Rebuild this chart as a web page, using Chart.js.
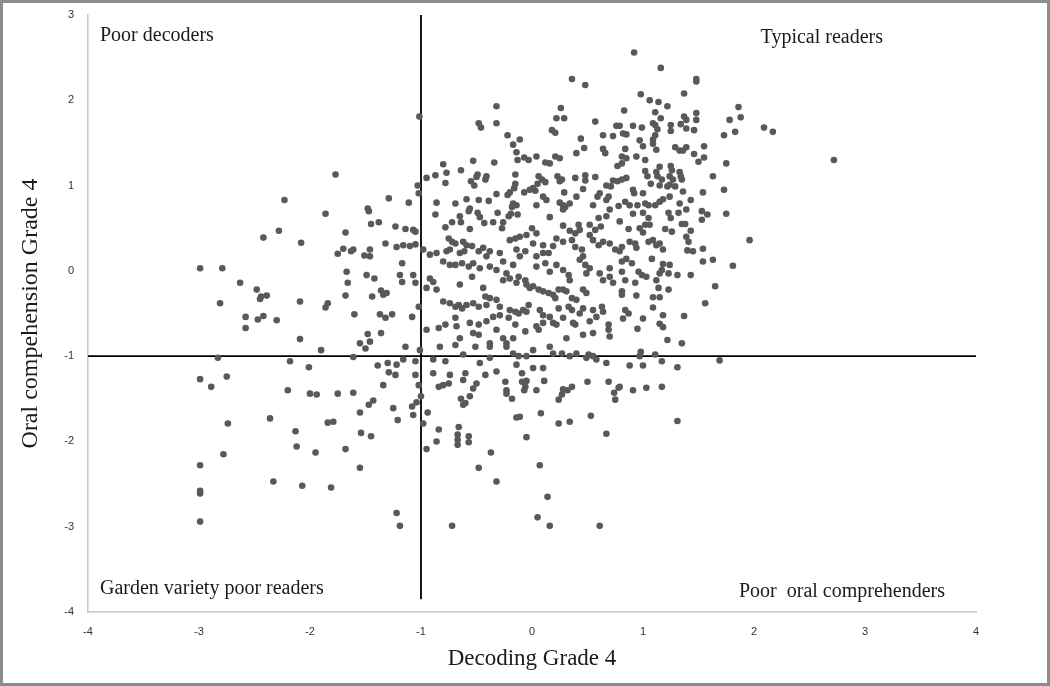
<!DOCTYPE html>
<html>
<head>
<meta charset="utf-8">
<script src="https://cdn.jsdelivr.net/npm/chart.js@4.4.0/dist/chart.umd.min.js"></script>
<style>
  html, body { margin: 0; padding: 0; background: #fff; }
  #wrap { width: 1050px; height: 686px; }
</style>
</head>
<body>
<div id="wrap"><canvas id="myChart"></canvas></div>
<script>
// [decoding, oral comprehension] pairs
const scoresTopLeft = [[-1.77,1.13],[-2.23,0.83],[-1.29,0.85],[-1.48,0.73]];

const scoresTopCenter = [
  [-1.015,1.81],[0.36,2.25],[0.48,2.18],[-0.32,1.93],[-0.48,1.73],[-0.46,1.68],[-0.32,1.73],[0.26,1.91],[0.22,1.79],[0.29,1.79],
  [0.57,1.75],[0.76,1.70],[0.18,1.65],[0.21,1.62],[-0.22,1.59],[-0.11,1.54],[0.44,1.55],[0.64,1.59],[0.73,1.58],[-0.17,1.48],
  [0.47,1.44],[0.64,1.43],[0.66,1.38],[-0.14,1.39],[0.40,1.38],[-0.07,1.33],[-0.03,1.30],[0.04,1.34],[-0.13,1.30],[0.21,1.34],
  [0.25,1.32],[0.12,1.27],[0.16,1.26],[0.77,1.23],[-0.34,1.27],[-0.53,1.29],[-0.80,1.25],[-0.77,1.15],[-0.64,1.18],[-0.87,1.12],
  [-0.95,1.09],[-0.78,1.03],[-0.49,1.13],[-0.50,1.10],[-0.55,1.05],[-0.52,1.00],[-0.41,1.11],[-0.42,1.07],[-0.15,1.13],[-0.15,1.02],
  [-0.16,0.97],[-0.20,0.92],[-0.22,0.89],[0.06,1.11],[0.09,1.07],[0.12,1.04],[0.23,1.11],[0.25,1.05],[0.27,1.07],[0.39,1.09],
  [0.48,1.12],[0.48,1.06],[0.57,1.10],[0.67,1.00],[0.71,0.99],[0.73,1.06],[0.77,1.05],[-1.03,1.00],[-1.02,0.91],[-1.11,0.80],
  [-0.86,0.80],[-0.69,0.79],[-0.59,0.84],[-0.48,0.83],[-0.39,0.82],[-0.32,0.90],[-0.07,0.92],[-0.02,0.95],[0.01,0.97],[0.03,0.94],
  [0.05,1.02],[0.29,0.92],[0.13,0.83],[0.10,0.87],[0.04,0.77],[0.25,0.80],[0.28,0.77],[0.30,0.75],[0.34,0.79],[0.40,0.87],
  [0.46,0.96],[0.55,0.77],[0.59,0.87],[0.61,0.91],[0.67,0.83],[0.69,0.87],[-0.17,0.79],[-0.14,0.77],[-0.18,0.75],[-0.56,0.73],
  [0.78,0.76]
];

const scoresTopRight = [
  [0.92,2.56],[1.16,2.38],[1.48,2.25],[1.48,2.22],[0.98,2.07],[1.37,2.08],[1.06,2.00],[1.14,1.98],[1.22,1.93],[0.83,1.88],
  [1.11,1.86],[1.16,1.79],[1.37,1.81],[1.39,1.77],[1.48,1.85],[1.48,1.77],[1.86,1.92],[1.78,1.77],[1.88,1.80],[2.09,1.68],
  [2.17,1.63],[2.72,1.30],[1.83,1.63],[1.73,1.59],[0.91,1.70],[0.99,1.68],[1.09,1.73],[1.11,1.71],[1.13,1.66],[1.11,1.59],
  [1.25,1.71],[1.25,1.64],[1.34,1.72],[1.39,1.67],[1.46,1.65],[0.79,1.70],[0.82,1.61],[0.85,1.60],[0.97,1.53],[1.00,1.46],
  [1.09,1.54],[1.09,1.49],[1.12,1.42],[0.84,1.43],[1.29,1.45],[1.33,1.41],[1.36,1.41],[1.39,1.45],[1.55,1.46],[1.46,1.37],
  [1.55,1.33],[1.50,1.28],[1.75,1.26],[1.63,1.11],[1.73,0.95],[1.54,0.92],[0.81,1.34],[0.85,1.32],[0.94,1.34],[0.81,1.26],
  [1.02,1.30],[1.02,1.17],[1.04,1.11],[1.07,1.02],[0.85,1.09],[0.81,1.07],[1.12,1.16],[1.15,1.22],[1.13,1.11],[1.17,1.07],
  [1.15,1.00],[1.25,1.23],[1.26,1.18],[1.24,1.11],[1.27,1.07],[1.24,1.01],[1.22,0.99],[1.29,0.99],[1.33,1.16],[1.34,1.11],
  [1.35,1.07],[1.36,0.93],[0.91,0.95],[0.92,0.91],[1.00,0.91],[0.84,0.81],[0.88,0.77],[0.95,0.77],[1.02,0.79],[1.05,0.77],
  [1.11,0.77],[1.15,0.81],[1.18,0.84],[1.24,0.87],[1.33,0.79],[1.43,0.83]
];

const scoresMidLeft = [
  [-1.86,0.67],[-1.47,0.70],[-1.45,0.55],[-1.38,0.57],[-2.42,0.39],[-2.28,0.47],[-2.08,0.33],[-1.68,0.45],[-1.32,0.32],[-2.99,0.03],
  [-2.79,0.03],[-1.75,0.20],[-1.70,0.26],[-1.63,0.23],[-1.61,0.25],[-1.51,0.18],[-1.46,0.17],[-1.46,0.25],[-2.63,-0.14],[-2.48,-0.22],
  [-2.44,-0.30],[-2.45,-0.33],[-2.39,-0.29],[-2.81,-0.38],[-2.58,-0.54],[-2.42,-0.53],[-2.47,-0.57],[-2.30,-0.58],[-2.58,-0.67],[-2.09,-0.36],
  [-1.86,-0.43],[-1.84,-0.38],[-1.67,-0.01],[-1.66,-0.14],[-1.68,-0.29],[-1.49,-0.05],[-1.42,-0.09],[-1.44,-0.30],[-1.36,-0.23],[-1.34,-0.28],
  [-1.31,-0.26],[-1.60,-0.51],[-1.37,-0.51],[-1.32,-0.55],[-2.09,-0.80],[-1.90,-0.93],[-1.48,-0.74],[-1.36,-0.73],[-1.55,-0.85],[-1.46,-0.83],
  [-1.50,-0.91],[-2.83,-1.02],[-2.18,-1.06],[-2.01,-1.13],[-1.61,-1.01],[-1.39,-1.11],[-1.30,-1.08],[-1.29,-1.19],[-2.99,-1.27],[-2.75,-1.24]
];

const scoresMidCenter = [
  [-0.87,0.66],[-0.65,0.64],[-0.64,0.57],[-0.57,0.70],[-0.49,0.68],[-0.47,0.63],[-0.56,0.49],[-0.43,0.56],[-0.35,0.57],[-0.31,0.68],
  [-0.72,0.57],[-0.78,0.51],[-0.26,0.57],[-0.27,0.50],[-0.21,0.64],[-0.19,0.67],[-0.13,0.66],[0.00,0.50],[0.04,0.44],[0.16,0.63],
  [0.28,0.72],[0.28,0.53],[0.34,0.47],[0.39,0.44],[0.43,0.48],[0.42,0.54],[0.52,0.54],[0.57,0.48],[0.62,0.52],[0.60,0.62],
  [0.67,0.64],[0.70,0.72],[-1.23,0.52],[-1.14,0.49],[-1.07,0.48],[-1.05,0.46],
  [-0.75,0.38],[-0.72,0.34],[-0.69,0.32],[-0.74,0.25],[-0.77,0.23],[-0.62,0.34],[-0.59,0.30],[-0.54,0.29],[-0.61,0.23],[-0.65,0.21],
  [-0.48,0.23],[-0.44,0.27],[-0.38,0.23],[-0.29,0.21],[-0.20,0.36],[-0.15,0.38],[-0.11,0.40],[-0.05,0.42],[-0.14,0.25],[-0.06,0.23],
  [0.01,0.32],[0.10,0.30],[0.15,0.21],[0.19,0.29],[0.22,0.38],[0.28,0.34],[0.36,0.36],[0.39,0.28],[0.45,0.25],[0.46,0.17],
  [0.52,0.42],[0.55,0.36],[0.60,0.30],[0.64,0.34],[0.70,0.32],[0.75,0.25],[0.79,0.23],[-1.22,0.28],[-1.16,0.30],[-1.10,0.29],
  [-1.05,0.31],[-0.98,0.25],[-0.92,0.19],[-0.86,0.21],[-0.80,0.11],
  [-1.17,0.09],[-1.19,-0.05],[-1.17,-0.13],[-1.07,-0.05],[-1.05,-0.14],[-0.74,0.07],[-0.69,0.07],[-0.63,0.09],[-0.57,0.05],[-0.53,0.09],
  [-0.47,0.03],[-0.41,0.17],[-0.38,0.05],[-0.32,0.01],[-0.26,0.11],[-0.23,-0.03],[-0.17,0.07],[-0.12,-0.07],[-0.06,-0.11],[-0.11,0.17],
  [0.04,0.17],[0.10,0.21],[0.04,0.05],[0.12,0.09],[0.16,-0.01],[0.22,0.07],[0.28,0.01],[0.33,-0.05],[0.34,-0.11],[0.43,0.13],
  [0.48,0.07],[0.49,-0.03],[0.52,0.03],[0.61,-0.03],[0.64,-0.11],[0.70,0.03],[0.70,-0.07],[0.73,-0.14],[-0.92,-0.09],[-0.89,-0.13],
  [-0.95,-0.20],[-0.86,-0.22],[-0.65,-0.16],[-0.54,-0.07],[-0.44,-0.20],[-0.42,-0.30],[-0.26,-0.11],[-0.20,-0.09],[-0.14,-0.14],[-0.05,-0.16],
  [-0.02,-0.20],
  [0.01,-0.18],[0.06,-0.22],[0.10,-0.24],[0.15,-0.26],[0.19,-0.28],[0.21,-0.32],[0.24,-0.22],[0.28,-0.22],[0.31,-0.24],[0.36,-0.32],
  [0.40,-0.34],[0.46,-0.22],[0.49,-0.26],[-0.80,-0.36],[-0.74,-0.38],[-0.69,-0.42],[-0.66,-0.40],[-0.63,-0.44],[-0.59,-0.40],[-0.53,-0.38],
  [-0.48,-0.42],[-0.41,-0.40],[-0.38,-0.32],[-0.32,-0.34],[-0.29,-0.42],[-0.20,-0.46],[-0.15,-0.48],[-0.12,-0.50],[-0.08,-0.46],[-0.05,-0.48],
  [-0.03,-0.40],[0.07,-0.46],[0.10,-0.52],[0.16,-0.54],[0.24,-0.44],[0.28,-0.55],[0.33,-0.42],[0.36,-0.46],[0.43,-0.50],[0.46,-0.44],
  [0.55,-0.46],[0.58,-0.54],[0.63,-0.42],[0.64,-0.48],[-1.02,-0.42],[-1.08,-0.54],[-1.26,-0.51],
  [-0.95,-0.69],[-0.84,-0.67],[-0.78,-0.63],[-0.69,-0.55],[-0.68,-0.65],[-0.65,-0.79],[-0.56,-0.61],[-0.48,-0.63],[-0.41,-0.59],[-0.35,-0.54],
  [-0.29,-0.52],[-0.21,-0.55],[-0.15,-0.63],[-0.53,-0.73],[-0.48,-0.75],[-0.38,-0.85],[-0.38,-0.89],[-0.32,-0.69],[-0.26,-0.79],[-0.23,-0.85],
  [-0.23,-0.89],[-0.83,-0.89],[-0.69,-0.87],[-0.51,-0.89],[0.04,-0.65],[0.06,-0.69],[0.10,-0.61],[0.19,-0.61],[0.22,-0.63],[0.31,-0.79],
  [0.37,-0.61],[0.39,-0.63],[0.46,-0.75],[0.52,-0.59],[0.55,-0.73],[0.69,-0.69],[0.70,-0.77],[0.69,-0.63],[-0.06,-0.71],[-0.17,-0.79],
  [0.01,-0.93],[0.16,-0.89],[0.27,-0.97],[0.40,-0.97],[0.51,-0.98],[0.55,-1.00],[-1.14,-0.89],[-1.01,-0.93],
  [-1.22,-1.10],[-1.16,-1.04],[-1.05,-1.06],[-0.89,-1.04],[-0.78,-1.06],[-0.62,-0.98],[-0.47,-1.08],[-0.38,-1.02],[-0.17,-0.97],[-0.12,-1.00],
  [-0.05,-1.00],[-1.23,-1.22],[-1.05,-1.22],[-0.89,-1.20],[-0.74,-1.22],[-0.60,-1.20],[-0.42,-1.22],[-0.32,-1.18],[-0.14,-1.10],[-0.09,-1.20],
  [0.01,-1.14],[0.10,-1.14],[0.19,-0.97],[0.34,-1.00],[0.49,-1.02],[0.58,-1.04],[0.67,-1.08]
];

const scoresMidRight = [
  [0.91,0.67],[1.00,0.68],[1.05,0.62],[1.23,0.68],[1.25,0.62],[1.32,0.68],[1.39,0.72],[1.53,0.70],[1.58,0.66],[1.75,0.67],
  [0.79,0.58],[0.87,0.49],[0.97,0.50],[1.02,0.54],[1.06,0.54],[1.00,0.45],[1.20,0.49],[1.26,0.46],[1.35,0.55],[1.38,0.55],
  [1.43,0.47],[1.53,0.60],[1.96,0.36],[1.39,0.40],[1.41,0.34],[0.88,0.34],[0.93,0.32],[0.94,0.27],[1.05,0.34],[1.09,0.36],
  [1.12,0.30],[1.15,0.32],[1.18,0.25],[0.81,0.28],[1.40,0.24],[1.45,0.23],[1.54,0.26],[1.54,0.11],[1.63,0.13],[1.81,0.06],
  [1.08,0.14],[1.18,0.08],[1.24,0.07],[0.85,0.14],[0.90,0.09],[0.81,0.11],[0.81,-0.01],[0.96,-0.01],[0.99,-0.05],[1.03,-0.07],
  [1.17,0.01],[1.15,-0.03],[1.23,-0.03],[1.31,-0.05],[1.43,-0.05],[1.12,-0.11],[0.84,-0.11],[0.93,-0.14],[1.14,-0.20],[1.23,-0.22],
  [1.65,-0.18],[0.81,-0.24],[0.81,-0.28],[0.94,-0.29],[1.09,-0.31],[1.15,-0.31],[1.56,-0.38],[1.09,-0.43],[0.84,-0.46],[0.87,-0.50],
  [0.82,-0.56],[1.00,-0.56],[1.18,-0.52],[1.37,-0.53],[1.15,-0.62],[1.18,-0.66],[0.95,-0.68],[1.22,-0.81],[1.35,-0.85],[0.98,-0.95],
  [0.97,-1.00],[1.11,-0.98],[0.88,-1.11],[1.00,-1.11],[1.17,-1.06],[1.31,-1.13],[1.69,-1.05]
];

const scoresLowLeft = [
  [-2.89,-1.36],[-2.20,-1.40],[-2.00,-1.44],[-1.94,-1.45],[-1.75,-1.44],[-1.61,-1.43],[-1.34,-1.34],[-1.43,-1.52],[-1.47,-1.57],[-1.55,-1.66],
  [-2.74,-1.79],[-2.36,-1.73],[-2.13,-1.88],[-1.84,-1.78],[-1.79,-1.77],[-1.54,-1.90],[-1.45,-1.94],[-2.12,-2.06],[-1.95,-2.13],[-1.68,-2.09],
  [-2.78,-2.15],[-2.99,-2.28],[-1.55,-2.31],[-2.33,-2.47],[-2.07,-2.52],[-1.81,-2.54],[-2.99,-2.58],[-2.99,-2.61],[-2.99,-2.94]
];

const scoresLowCenter = [
  [-1.02,-1.34],[-1.00,-1.47],[-1.25,-1.61],[-1.21,-1.75],[-1.08,-1.59],[-1.07,-1.69],[-1.04,-1.54],[-0.94,-1.66],[-0.98,-1.79],[-0.95,-2.09],
  [-0.84,-1.86],[-0.86,-2.00],[-0.84,-1.36],[-0.80,-1.34],[-0.75,-1.32],[-0.62,-1.28],[-0.53,-1.38],[-0.50,-1.32],[-0.64,-1.50],[-0.62,-1.57],
  [-0.60,-1.55],[-0.56,-1.47],[-0.66,-1.83],[-0.67,-1.92],[-0.67,-1.98],[-0.67,-2.04],[-0.57,-1.94],[-0.57,-2.01],[-0.48,-2.31],[-0.37,-2.13],
  [-0.32,-2.47],[-0.24,-1.30],[-0.23,-1.40],[-0.23,-1.44],[-0.18,-1.50],[-0.09,-1.30],[-0.05,-1.29],[-0.06,-1.36],[-0.07,-1.40],[-0.14,-1.72],
  [-0.11,-1.71],[-0.05,-1.95],[0.04,-1.40],[0.11,-1.29],[0.08,-1.67],[0.07,-2.28],[0.14,-2.65],[0.05,-2.89],[0.16,-2.99],[0.24,-1.79],
  [0.34,-1.77],[0.24,-1.51],[0.27,-1.45],[0.28,-1.39],[0.32,-1.40],[0.36,-1.36],[0.50,-1.30],[0.53,-1.70],[0.67,-1.91],[0.69,-1.30],
  [0.74,-1.43],[0.75,-1.51],[0.78,-1.37],[-1.22,-2.84],[-1.19,-2.99],[-0.72,-2.99],[0.61,-2.99]
];

const scoresLowRight = [[0.79,-1.36],[0.91,-1.40],[1.03,-1.37],[1.17,-1.36],[1.31,-1.76]];

// cut-off lines at -1 SD and axis ranges
const cutoff = -1;
const xTicks = [-4, -3, -2, -1, 0, 1, 2, 3, 4];
const yTicks = [-4, -3, -2, -1, 0, 1, 2, 3];
const quadrantNames = ['Poor decoders', 'Typical readers', 'Garden variety poor readers', 'Poor  oral comprehenders'];

const allScores = [].concat(scoresTopLeft, scoresTopCenter, scoresTopRight, scoresMidLeft, scoresMidCenter,
  scoresMidRight, scoresLowLeft, scoresLowCenter, scoresLowRight);

const serif = "'Liberation Serif', 'Times New Roman', serif";

// quadrant captions + outer frame
const captions = {
  id: 'captions',
  afterDraw(chart) {
    const { ctx, chartArea: a } = chart;
    ctx.save();
    ctx.fillStyle = '#1a1a1a';
    ctx.font = '20px ' + serif;
    ctx.textBaseline = 'middle';
    ctx.textAlign = 'left';
    ctx.fillText(quadrantNames[0], a.left + 12, a.top + 21);
    ctx.fillText(quadrantNames[2], a.left + 12, a.bottom - 23);
    ctx.textAlign = 'right';
    ctx.fillText(quadrantNames[1], a.right - 93, a.top + 23);
    ctx.fillText(quadrantNames[3], a.right - 31, a.bottom - 20);
    ctx.strokeStyle = '#8c8c8c';
    ctx.lineWidth = 3;
    ctx.strokeRect(1.5, 1.5, chart.width - 3, chart.height - 3);
    ctx.restore();
  }
};

new Chart(document.getElementById('myChart'), {
  type: 'scatter',
  data: {
    datasets: [
      {
        data: allScores.map(p => ({ x: p[0], y: p[1] })),
        backgroundColor: '#595959',
        borderWidth: 0,
        pointRadius: 3.3,
        order: 1
      },
      {
        data: [{ x: cutoff, y: 3 }, { x: cutoff, y: -3.85 }],
        showLine: true,
        borderColor: '#000',
        borderWidth: 1.8,
        pointRadius: 0,
        order: 2
      },
      {
        data: [{ x: -4, y: cutoff }, { x: 4, y: cutoff }],
        showLine: true,
        borderColor: '#000',
        borderWidth: 1.8,
        pointRadius: 0,
        order: 2
      }
    ]
  },
  plugins: [captions],
  options: {
    responsive: true,
    maintainAspectRatio: false,
    animation: false,
    layout: { padding: { top: 15, right: 74, bottom: 0, left: 0 } },
    plugins: {
      legend: { display: false },
      tooltip: { enabled: false }
    },
    scales: {
      x: {
        type: 'linear',
        min: -4,
        max: 4,
        afterBuildTicks: s => { s.ticks = xTicks.map(v => ({ value: v })); },
        afterFit: s => { s.height = 74; s.paddingLeft = 0; s.paddingRight = 0; },
        grid: { display: false, drawTicks: false },
        border: { display: true, color: '#c8c8c8', width: 1.5 },
        ticks: { padding: 13, color: '#333', font: { family: "'Liberation Sans', sans-serif", size: 11 } },
        title: {
          display: true,
          text: 'Decoding Grade 4',
          color: '#1a1a1a',
          font: { family: serif, size: 23 },
          padding: { top: 0, bottom: 13 }
        }
      },
      y: {
        type: 'linear',
        min: -4,
        max: 3,
        afterBuildTicks: s => { s.ticks = yTicks.map(v => ({ value: v })); },
        afterFit: s => { s.width = 88; s.paddingTop = 0; s.paddingBottom = 0; },
        grid: { display: false, drawTicks: false },
        border: { display: true, color: '#c8c8c8', width: 1.5 },
        ticks: { padding: 14, color: '#333', font: { family: "'Liberation Sans', sans-serif", size: 11 } },
        title: {
          display: true,
          text: 'Oral compehension Grade 4',
          color: '#1a1a1a',
          font: { family: serif, size: 24 },
          padding: { top: 16, bottom: 0 }
        }
      }
    }
  }
});
</script>
</body>
</html>
